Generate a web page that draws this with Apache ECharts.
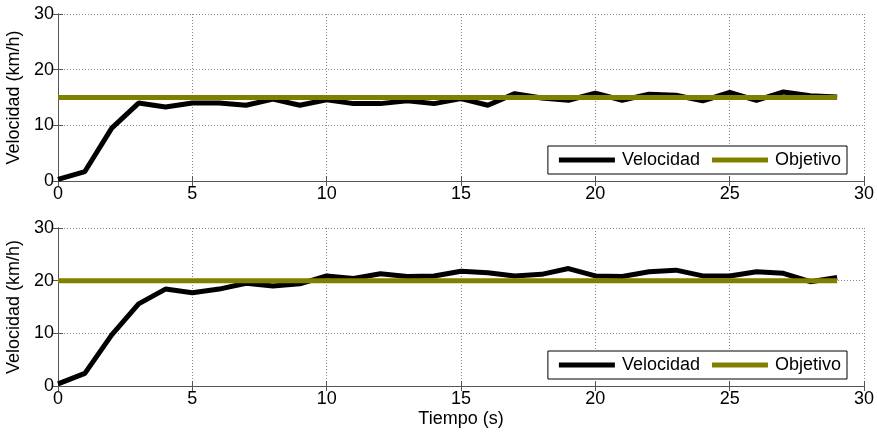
<!DOCTYPE html>
<html>
<head>
<meta charset="utf-8">
<script src="https://cdn.jsdelivr.net/npm/echarts@6/dist/echarts.min.js"></script>
<style>
  html, body { margin: 0; padding: 0; background: #fff; }
  #chart { width: 877px; height: 432px; }
</style>
</head>
<body>
<div id="chart"></div>
<script>
const tiempo = [0,1,2,3,4,5,6,7,8,9,10,11,12,13,14,15,16,17,18,19,20,21,22,23,24,25,26,27,28,29];
const velocidad1 = [0.3,1.7,9.5,14,13.3,14,14,13.6,14.7,13.6,14.6,13.9,13.9,14.4,13.9,14.8,13.6,15.7,14.9,14.5,15.8,14.5,15.6,15.4,14.4,15.9,14.5,16,15.3,15.1];
const velocidad2 = [0.4,2.4,9.7,15.6,18.4,17.7,18.4,19.5,19,19.4,20.9,20.4,21.3,20.8,20.9,21.8,21.5,20.9,21.2,22.3,20.9,20.8,21.7,22,20.9,20.9,21.7,21.4,19.8,20.6];
const objetivo1 = tiempo.map(() => 15);
const objetivo2 = tiempo.map(() => 20);

const pairs = (xs, ys) => xs.map((x, i) => [x, ys[i]]);

const font = 'Liberation Sans, Arial, sans-serif';
const fs = 18;
const olive = '#808000';
const axisCol = '#555';

const xAxisBase = (gridIndex, withName) => ({
  type: 'value', gridIndex, min: 0, max: 30, interval: 5,
  axisLine: { show: true, lineStyle: { color: axisCol, width: 1 } },
  axisTick: { show: true, inside: true, length: 5, lineStyle: { color: axisCol } },
  axisLabel: { color: '#000', fontSize: fs, fontFamily: font, margin: 4 },
  splitLine: { show: true, lineStyle: { color: '#888', type: [1, 2], width: 1 } },
  name: withName ? 'Tiempo (s)' : '',
  nameLocation: 'middle', nameGap: 24,
  nameTextStyle: { color: '#000', fontSize: fs, fontFamily: font }
});

const yAxisBase = (gridIndex) => ({
  type: 'value', gridIndex, min: 0, max: 30, interval: 10,
  axisLine: { show: true, lineStyle: { color: axisCol, width: 1 } },
  axisTick: { show: true, inside: true, length: 5, lineStyle: { color: axisCol } },
  axisLabel: { color: '#000', fontSize: fs, fontFamily: font, margin: 4 },
  splitLine: { show: true, lineStyle: { color: '#888', type: [1, 2], width: 1 } },
  name: 'Velocidad (km/h)', nameLocation: 'middle', nameGap: 32,
  nameTextStyle: { color: '#000', fontSize: fs, fontFamily: font }
});

// mirror axes on top / right for the boxed look (ticks only)
const xMirror = (gridIndex) => ({
  type: 'value', gridIndex, min: 0, max: 30, interval: 5, position: 'top',
  axisLine: { show: true, lineStyle: { color: axisCol, width: 1 } },
  axisTick: { show: true, inside: true, length: 5, lineStyle: { color: axisCol } },
  axisLabel: { show: false }, splitLine: { show: false }
});
const yMirror = (gridIndex) => ({
  type: 'value', gridIndex, min: 0, max: 30, interval: 10, position: 'right',
  axisLine: { show: true, lineStyle: { color: axisCol, width: 1 } },
  axisTick: { show: true, inside: true, length: 5, lineStyle: { color: axisCol } },
  axisLabel: { show: false }, splitLine: { show: false }
});

const legendBase = (top, grid) => ({
  right: 30, top,
  orient: 'horizontal',
  backgroundColor: '#fff',
  borderColor: '#000', borderWidth: 1,
  padding: [5, 6, 5, 11],
  itemGap: 12,
  itemWidth: 56, itemHeight: 5,
  icon: 'rect',
  textStyle: { color: '#000', fontSize: fs, fontFamily: font, padding: [0, 0, 0, 2] },
  data: [
    { name: 'Velocidad' + grid, itemStyle: { color: '#000' } },
    { name: 'Objetivo' + grid, itemStyle: { color: olive } }
  ],
  formatter: (n) => n.replace(/\d$/, '')
});

const chart = echarts.init(document.getElementById('chart'));
chart.setOption({
  backgroundColor: '#fff',
  animation: false,
  grid: [
    { left: 58, right: 13, top: 14, height: 167, outerBoundsMode: 'none' },
    { left: 58, right: 13, top: 228, height: 158, outerBoundsMode: 'none' }
  ],
  xAxis: [xAxisBase(0, false), xAxisBase(1, true), xMirror(0), xMirror(1)],
  yAxis: [yAxisBase(0), yAxisBase(1), yMirror(0), yMirror(1)],
  legend: [legendBase(146, 1), legendBase(351, 2)],
  series: [
    { name: 'Velocidad1', type: 'line', xAxisIndex: 0, yAxisIndex: 0, data: pairs(tiempo, velocidad1),
      showSymbol: false, lineStyle: { color: '#000', width: 5 }, itemStyle: { color: '#000' }, z: 2 },
    { name: 'Objetivo1', type: 'line', xAxisIndex: 0, yAxisIndex: 0, data: pairs(tiempo, objetivo1),
      showSymbol: false, lineStyle: { color: olive, width: 5 }, itemStyle: { color: olive }, z: 3 },
    { name: 'Velocidad2', type: 'line', xAxisIndex: 1, yAxisIndex: 1, data: pairs(tiempo, velocidad2),
      showSymbol: false, lineStyle: { color: '#000', width: 5 }, itemStyle: { color: '#000' }, z: 2 },
    { name: 'Objetivo2', type: 'line', xAxisIndex: 1, yAxisIndex: 1, data: pairs(tiempo, objetivo2),
      showSymbol: false, lineStyle: { color: olive, width: 5 }, itemStyle: { color: olive }, z: 3 }
  ]
});
</script>
</body>
</html>
